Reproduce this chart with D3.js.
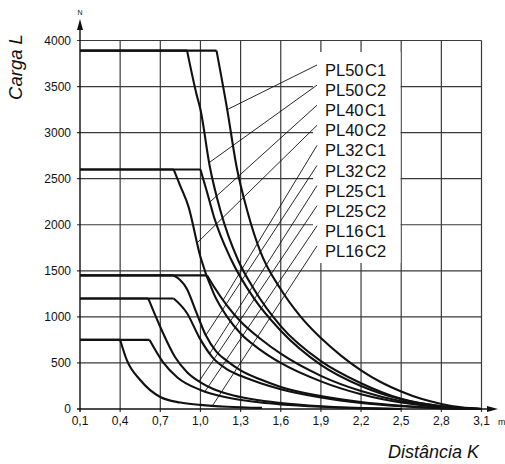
<!DOCTYPE html>
<html><head><meta charset="utf-8">
<script src="https://cdn.jsdelivr.net/npm/d3@7"></script>
<style>
body{margin:0;background:#fff}
svg{display:block;font-family:"Liberation Sans",Arial,Helvetica,sans-serif}
</style>
</head><body>
<svg id="chart" width="505" height="464"></svg>
<script>
// ---- data ----
const xTicks = [0.1, 0.4, 0.7, 1.0, 1.3, 1.6, 1.9, 2.2, 2.5, 2.8, 3.1];
const xTickLabels = ["0,1","0,4","0,7","1,0","1,3","1,6","1,9","2,2","2,5","2,8","3,1"];
const yTicks = [0, 500, 1000, 1500, 2000, 2500, 3000, 3500, 4000];
const yTickLabels = ["0","500","1000","1500","2000","2500","3000","3500","4000"];
const seriesNames = ["PL50 C1","PL50 C2","PL40 C1","PL40 C2","PL32 C1","PL32 C2","PL25 C1","PL25 C2","PL16 C1","PL16 C2"];

const PL50_C1 = [[0.1,3890],[1.12,3890],[1.2,3250],[1.27,2630],[1.35,2150],[1.45,1700],[1.6,1300],[1.75,1000],[1.9,770],[2.05,580],[2.2,420],[2.35,290],[2.5,190],[2.65,110],[2.8,55],[2.95,18],[3.1,0]];
const PL50_C2 = [[0.1,3890],[0.9,3890],[0.97,3420],[1.0,3250],[1.07,2630],[1.15,2150],[1.28,1620],[1.4,1300],[1.6,900],[1.9,520],[2.2,280],[2.5,110],[2.8,30],[3.1,0]];
const PL40_C1 = [[0.1,2600],[1.0,2600],[1.05,2350],[1.1,2090],[1.23,1620],[1.4,1200],[1.6,850],[1.9,480],[2.2,250],[2.5,105],[2.8,30],[3.1,0]];
const PL40_C2 = [[0.1,2600],[0.8,2600],[0.85,2420],[0.91,2200],[1.0,1650],[1.1,1250],[1.2,1000],[1.3,820],[1.45,640],[1.6,500],[1.9,300],[2.2,160],[2.5,70],[2.8,20],[3.1,0]];
const PL32_C1 = [[0.1,1450],[1.05,1450],[1.1,1330],[1.2,1120],[1.3,950],[1.45,760],[1.6,600],[1.9,360],[2.2,195],[2.5,85],[2.8,25],[3.1,0]];
const PL32_C2 = [[0.1,1450],[0.8,1450],[0.9,1300],[0.97,1045],[1.04,800],[1.12,620],[1.2,520],[1.3,420],[1.45,320],[1.6,240],[1.9,140],[2.2,75],[2.5,35],[2.8,10],[3.1,0]];
const PL25_C1 = [[0.1,1200],[0.8,1200],[0.9,1040],[0.99,780],[1.09,560],[1.2,430],[1.3,360],[1.45,280],[1.6,215],[1.9,125],[2.2,65],[2.5,30],[2.8,8],[3.1,0]];
const PL25_C2 = [[0.1,1200],[0.61,1200],[0.7,890],[0.81,565],[0.9,400],[1.0,290],[1.1,215],[1.24,150],[1.44,95],[1.6,65],[1.9,30],[2.2,10],[2.5,0]];
const PL16_C1 = [[0.1,750],[0.62,750],[0.72,510],[0.83,340],[1.0,207],[1.2,125],[1.45,70],[1.6,50],[1.9,25],[2.2,10],[2.5,0]];
const PL16_C2 = [[0.1,750],[0.4,750],[0.45,530],[0.55,315],[0.7,130],[0.85,70],[1.0,45],[1.2,25],[1.46,12]];
const seriesData = [PL50_C1,PL50_C2,PL40_C1,PL40_C2,PL32_C1,PL32_C2,PL25_C1,PL25_C2,PL16_C1,PL16_C2];
// distance K where each label's leader line touches its curve
const leaderK = [1.2, 1.065, 1.07, 0.975, 1.17, 1.04, 1.07, 0.99, 1.035, 1.09];

// ---- chart ----
const svg = d3.select("#chart");
const x = d3.scaleLinear().domain([0.1, 3.1]).range([80, 481.5]);
const y = d3.scaleLinear().domain([0, 4000]).range([409, 40.5]);
const ink = "#111";

// grid
const g = svg.append("g");
g.selectAll("line.h").data(yTicks.filter(v => v > 0)).join("line")
  .attr("x1", x(0.1) - 3).attr("x2", x(3.1)).attr("y1", d => y(d)).attr("y2", d => y(d))
  .attr("stroke", "#3a3a3a").attr("stroke-width", 1.2);
g.selectAll("line.v").data(xTicks.filter(v => v > 0.1)).join("line")
  .attr("x1", d => x(d)).attr("x2", d => x(d)).attr("y1", y(0) + 3).attr("y2", y(4000))
  .attr("stroke", "#3a3a3a").attr("stroke-width", 1.2);

// legend white box over grid
svg.append("rect").attr("x", 313).attr("y", 52).attr("width", 87.5).attr("height", 211).attr("fill", "#fff");

// axes
svg.append("line").attr("x1", x(0.1)).attr("x2", x(0.1)).attr("y1", y(0) + 3).attr("y2", 28)
  .attr("stroke", ink).attr("stroke-width", 1.4);
svg.append("path").attr("d", `M${x(0.1)},19 L${x(0.1)-3},30 L${x(0.1)+3},30 Z`).attr("fill", ink);
svg.append("line").attr("x1", x(0.1) - 3).attr("x2", 490).attr("y1", y(0)).attr("y2", y(0))
  .attr("stroke", ink).attr("stroke-width", 1.4);
svg.append("path").attr("d", `M498,${y(0)} L487,${y(0)-3} L487,${y(0)+3} Z`).attr("fill", ink);

// tick labels
svg.append("g").selectAll("text").data(xTicks).join("text")
  .attr("x", d => x(d)).attr("y", 425).attr("text-anchor", "middle")
  .attr("font-size", 12).attr("fill", ink).text((d, i) => xTickLabels[i]);
svg.append("g").selectAll("text").data(yTicks).join("text")
  .attr("x", 71).attr("y", d => y(d) + 4.3).attr("text-anchor", "end")
  .attr("font-size", 12).attr("fill", ink).text((d, i) => yTickLabels[i]);

// unit labels
svg.append("text").attr("x", x(0.1)).attr("y", 15).attr("text-anchor", "middle")
  .attr("font-size", 7).attr("fill", ink).text("N");
svg.append("text").attr("x", 498).attr("y", 425)
  .attr("font-size", 9).attr("fill", ink).text("m");

// axis titles
svg.append("text").attr("transform", "translate(22,67) rotate(-90)").attr("text-anchor", "middle")
  .attr("font-size", 18.5).attr("font-style", "italic").attr("fill", ink).text("Carga L");
svg.append("text").attr("x", 479).attr("y", 458).attr("text-anchor", "end")
  .attr("font-size", 18).attr("font-style", "italic").attr("fill", ink).text("Distância K");

// curves: flat part straight, decaying part smooth
const lineFlat = d3.line().x(d => x(d[0])).y(d => y(d[1]));
const lineCurve = d3.line().x(d => x(d[0])).y(d => y(d[1])).curve(d3.curveMonotoneX);
const cg = svg.append("g").attr("fill", "none").attr("stroke", ink).attr("stroke-width", 2.1)
  .attr("stroke-linejoin", "round");
seriesData.forEach(s => {
  cg.append("path").attr("d", lineFlat(s.slice(0, 2)));
  cg.append("path").attr("d", lineCurve(s.slice(1)));
});

// legend labels and leader lines
const rowY = i => 70 + i * 20.1;
function valueAt(s, k) {
  for (let i = 1; i < s.length; i++) {
    if (k <= s[i][0]) {
      const t = (k - s[i-1][0]) / (s[i][0] - s[i-1][0]);
      return s[i-1][1] + t * (s[i][1] - s[i-1][1]);
    }
  }
  return s[s.length - 1][1];
}
const lg = svg.append("g");
seriesNames.forEach((name, i) => {
  const k = leaderK[i];
  lg.append("line").attr("x1", 317).attr("y1", rowY(i) - 5)
    .attr("x2", x(k)).attr("y2", y(valueAt(seriesData[i], k)))
    .attr("stroke", ink).attr("stroke-width", 0.9);
  const parts = name.split(" ");
  const t = lg.append("text").attr("x", 325).attr("y", rowY(i) + 6)
    .attr("font-size", 16.5).attr("fill", ink);
  t.append("tspan").text(parts[0]);
  t.append("tspan").attr("dx", 1.5).text(parts[1]);
});
</script>
</body></html>
